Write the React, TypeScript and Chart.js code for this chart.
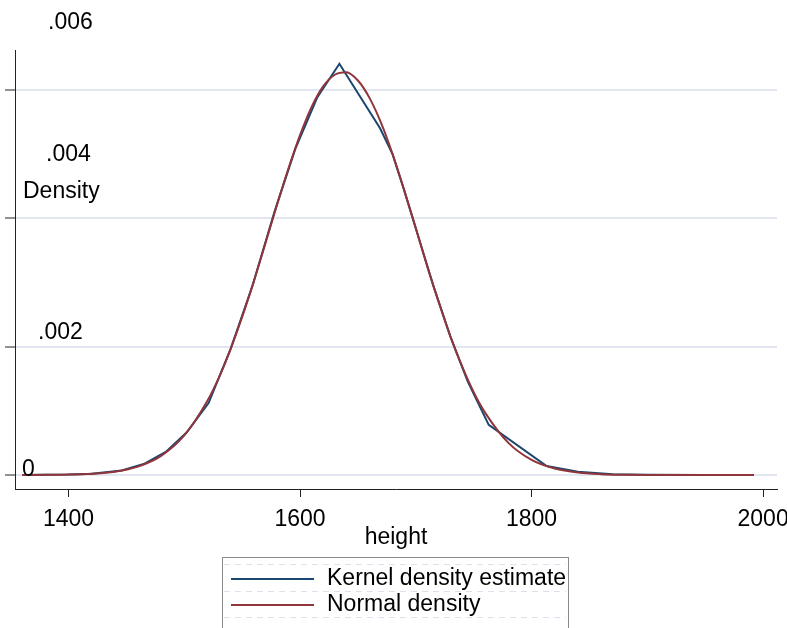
import React, { useEffect, useRef } from 'react';
import { Chart, registerables } from 'chart.js';

Chart.register(...registerables);

// ---- data ----
const kernelHeight = [1360, 1380, 1400, 1420, 1446, 1465, 1484, 1502, 1521, 1540, 1559, 1578, 1596, 1615, 1634, 1669, 1680, 1690, 1700, 1716, 1730, 1745, 1763, 1813, 1840, 1870, 1900, 1950, 1992];
const kernelDensity = [0.0000005, 0.000002, 0.000006, 0.00002, 0.00007, 0.00017, 0.00036, 0.00066, 0.00112, 0.00196, 0.00295, 0.0041, 0.00508, 0.00588, 0.0064, 0.0054, 0.00499, 0.00443, 0.00384, 0.0029, 0.00215, 0.00145, 0.00078, 0.00014, 0.00005, 0.00001, 0.000003, 0.000001, 0];

const normalHeight = [1360, 1380, 1400, 1420, 1440, 1460, 1480, 1500, 1520, 1530, 1540, 1550, 1560, 1570, 1580, 1590, 1600, 1610, 1620, 1630, 1640, 1650, 1660, 1670, 1680, 1690, 1700, 1710, 1720, 1730, 1740, 1750, 1760, 1780, 1800, 1820, 1840, 1860, 1880, 1900, 1920, 1950, 1992];
const normalDensity = [0.0000005, 0.000002, 0.000006, 0.000019, 0.000052, 0.000131, 0.000298, 0.000616, 0.001155, 0.00152, 0.00196, 0.00246, 0.00301, 0.0036, 0.0042, 0.00477, 0.00529, 0.00573, 0.00605, 0.00623, 0.00627, 0.00614, 0.00587, 0.00548, 0.00499, 0.00443, 0.00384, 0.00324, 0.00268, 0.00215, 0.00169, 0.00129, 0.000967, 0.0005, 0.000235, 0.0001, 0.000038, 0.000013, 0.000004, 0.000001, 0, 0, 0];

const xTickValues = [1400, 1600, 1800, 2000];
const xTickLabels = ['1400', '1600', '1800', '2000'];
const yTickValues = [0, 0.002, 0.004, 0.006];
const yTickLabels = ['0', '.002', '.004', '.006'];
const seriesNames = ['Kernel density estimate', 'Normal density'];
const xTitle = 'height';
const yTitle = 'Density';

const NAVY = '#1a476f';
const MAROON = '#90353b';
const FONT = "23px 'Liberation Sans', Arial, Helvetica, sans-serif";

const W = 787;
const H = 660;

const textPlugin = {
  id: 'stataText',
  afterDraw(chart: any) {
    const ctx = chart.ctx as CanvasRenderingContext2D;
    const xs = chart.scales.x;
    const ys = chart.scales.y;
    const area = chart.chartArea;
    ctx.save();
    ctx.font = FONT;
    ctx.fillStyle = '#000';
    ctx.textBaseline = 'middle';

    // x tick labels
    ctx.textAlign = 'center';
    xTickValues.forEach((v, i) => {
      ctx.fillText(xTickLabels[i], xs.getPixelForValue(v), area.bottom + 31);
    });
    // x title
    ctx.fillText(xTitle, (area.left + area.right) / 2, area.bottom + 49);

    // y tick labels (Stata-like odd placement)
    const yLabelPlace = [
      { dx: 7, dy: -5 },
      { dx: 23, dy: -14 },
      { dx: 31, dy: -63 },
      { dx: 33, dy: -67 },
    ];
    ctx.textAlign = 'left';
    yTickValues.forEach((v, i) => {
      const p = yLabelPlace[i];
      ctx.fillText(yTickLabels[i], area.left + p.dx, ys.getPixelForValue(v) + p.dy);
    });
    // y title
    ctx.fillText(yTitle, area.left + 8, ys.getPixelForValue(0.004) - 26);

    // legend
    const lx = 222, ly = 557, lw = 346, lh = 90;
    ctx.strokeStyle = '#dde1ec';
    ctx.lineWidth = 1;
    ctx.setLineDash([6, 5]);
    [564, 591, 617].forEach((yy) => {
      ctx.beginPath();
      ctx.moveTo(lx + 2, yy + 0.5);
      ctx.lineTo(lx + lw - 2, yy + 0.5);
      ctx.stroke();
    });
    ctx.setLineDash([]);
    ctx.strokeStyle = '#8a8a8a';
    ctx.lineWidth = 1;
    ctx.strokeRect(lx + 0.5, ly + 0.5, lw, lh);

    const colors = [NAVY, MAROON];
    const rows = [579, 605];
    seriesNames.forEach((name, i) => {
      ctx.strokeStyle = colors[i];
      ctx.lineWidth = 2;
      ctx.beginPath();
      ctx.moveTo(231, rows[i]);
      ctx.lineTo(314, rows[i]);
      ctx.stroke();
      ctx.fillStyle = '#000';
      ctx.fillText(name, 327, rows[i]);
    });
    ctx.restore();
  },
};

export default function App() {
  const ref = useRef<HTMLCanvasElement | null>(null);

  useEffect(() => {
    if (!ref.current) return;
    const kernelPts = kernelHeight.map((h, i) => ({ x: h, y: kernelDensity[i] }));
    const normalPts = normalHeight.map((h, i) => ({ x: h, y: normalDensity[i] }));

    const chart = new Chart(ref.current, {
      type: 'line',
      data: {
        datasets: [
          {
            label: seriesNames[0],
            data: kernelPts,
            borderColor: NAVY,
            borderWidth: 2,
            pointRadius: 0,
            tension: 0,
            order: 1,
          },
          {
            label: seriesNames[1],
            data: normalPts,
            borderColor: MAROON,
            borderWidth: 2,
            pointRadius: 0,
            cubicInterpolationMode: 'monotone',
            order: 0,
          },
        ],
      },
      options: {
        animation: false,
        responsive: false,
        devicePixelRatio: 1,
        layout: { padding: { left: 0, right: 10, top: 50, bottom: 0 } },
        plugins: {
          legend: { display: false },
          tooltip: { enabled: false },
          title: { display: false },
        },
        scales: {
          x: {
            type: 'linear',
            min: 1353.8,
            max: 2012,
            afterBuildTicks: (s: any) => {
              s.ticks = xTickValues.map((v) => ({ value: v }));
            },
            afterFit: (s: any) => {
              s.height = H - 489;
            },
            ticks: { display: false },
            grid: {
              drawOnChartArea: false,
              drawTicks: true,
              tickLength: 8,
              tickColor: '#222',
              tickWidth: 1,
            },
            border: { color: '#222', width: 1 },
          },
          y: {
            type: 'linear',
            min: -0.000218,
            max: 0.006615,
            afterBuildTicks: (s: any) => {
              s.ticks = yTickValues.map((v) => ({ value: v }));
            },
            afterFit: (s: any) => {
              s.width = 15;
            },
            ticks: { display: false },
            grid: {
              color: '#e1e6f0',
              lineWidth: 2,
              drawTicks: true,
              tickLength: 10,
              tickColor: '#222',
              tickWidth: 1,
            },
            border: { color: '#222', width: 1 },
          },
        },
      },
      plugins: [textPlugin],
    } as any);
    return () => chart.destroy();
  }, []);

  return (
    <div style={{ position: 'absolute', left: 0, top: 0, width: W, height: H }}>
      <canvas ref={ref} width={W} height={H} style={{ display: 'block', width: W, height: H }} />
    </div>
  );
}
